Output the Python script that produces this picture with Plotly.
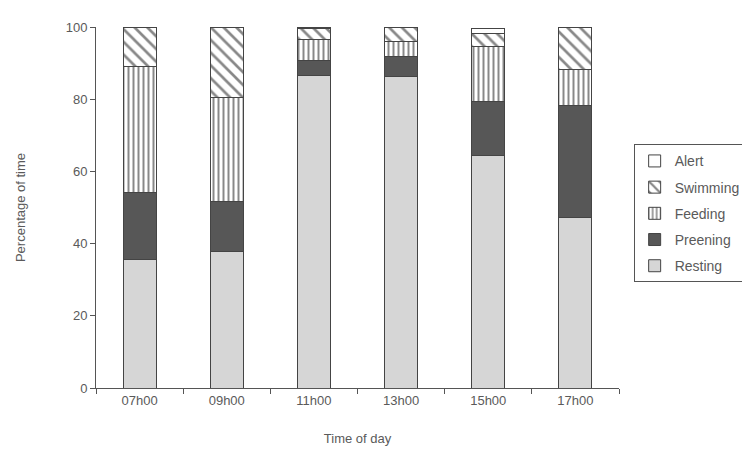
import plotly.graph_objects as go

times = ["07h00", "09h00", "11h00", "13h00", "15h00", "17h00"]
resting = [35.5, 37.7, 86.7, 86.2, 64.5, 47.2]
preening = [18.6, 14.1, 4.1, 5.5, 14.8, 31.0]
feeding = [34.9, 28.6, 5.7, 4.2, 15.4, 9.9]
swimming = [11.0, 19.6, 3.0, 4.1, 3.6, 11.9]
alert = [0.0, 0.0, 0.5, 0.0, 1.2, 0.0]

FONT = "Liberation Sans"
TXT = "#5a5a5a"
LINE = dict(color="#444444", width=1)

fig = go.Figure()
fig.add_trace(go.Bar(name="Resting", x=times, y=resting, legendgroup="r", legendrank=5,
                     marker=dict(color="#d6d6d6", line=LINE)))
fig.add_trace(go.Bar(name="Preening", x=times, y=preening, legendgroup="p", legendrank=4,
                     marker=dict(color="#575757", line=LINE)))
fig.add_trace(go.Bar(name="Feeding", x=times, y=feeding, legendgroup="f", legendrank=3,
                     marker=dict(color="white", line=LINE,
                                 pattern=dict(shape="|", fgcolor="#111111", bgcolor="white",
                                              size=5, solidity=0.4))))
fig.add_trace(go.Bar(name="Swimming", x=times, y=swimming, legendgroup="s", legendrank=2,
                     marker=dict(color="white", line=LINE,
                                 pattern=dict(shape="\\", fgcolor="#111111", bgcolor="white",
                                              size=9, solidity=0.3))))
fig.add_trace(go.Bar(name="Alert", x=times, y=alert, legendgroup="a", legendrank=1,
                     marker=dict(color="white", line=LINE)))

fig.update_layout(
    barmode="stack",
    bargap=0.62,
    width=750, height=449,
    margin=dict(l=87, r=125, t=17, b=69),
    plot_bgcolor="white", paper_bgcolor="white",
    font=dict(family=FONT, size=13, color=TXT),
    legend=dict(traceorder="grouped", x=1.028, y=0.675, xanchor="left", yanchor="top",
                bordercolor="#555555", borderwidth=1, bgcolor="white",
                font=dict(family=FONT, size=14, color=TXT),
                itemwidth=30, tracegroupgap=5),
    showlegend=True,
)
fig.update_xaxes(
    showline=True, linecolor="#555555", linewidth=1,
    ticks="outside", tickson="boundaries", ticklen=5, tickcolor="#555555",
    title=dict(text="Time of day", font=dict(family=FONT, size=13, color=TXT), standoff=27),
    tickfont=dict(family=FONT, size=13, color=TXT),
)
fig.update_yaxes(
    range=[0, 100], dtick=20, showgrid=False, zeroline=False,
    showline=True, linecolor="#555555", linewidth=1,
    ticks="outside", ticklen=5, tickcolor="#555555",
    title=dict(text="Percentage of time", font=dict(family=FONT, size=13, color=TXT), standoff=37),
    tickfont=dict(family=FONT, size=13, color=TXT),
)

fig.write_html("out.html")
